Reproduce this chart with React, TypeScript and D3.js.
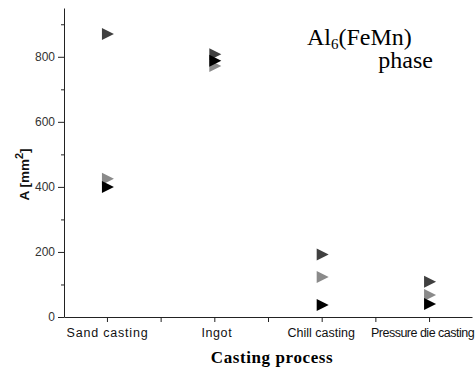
import React, { useEffect, useRef } from 'react';
import * as d3 from 'd3';

const categories = ['Sand casting', 'Ingot', 'Chill casting', 'Pressure die casting'];
const darkSeries = [870, 808, 192, 108];
const graySeries = [425, 772, 123, 68];
const blackSeries = [400, 788, 37, 40];
const yTicks = [0, 200, 400, 600, 800];
const yMinorTicks = [100, 300, 500, 700, 900];
// the labels in the source are unevenly spaced / placed
const labelSpacing = [0.8, 0.6, 0, -0.5];
const labelShift = [0, 2, -1, -7];

const series = [
  { name: 'dark', values: darkSeries, color: '#404040' },
  { name: 'gray', values: graySeries, color: '#8a8a8a' },
  { name: 'black', values: blackSeries, color: '#000000' },
];

function App() {
  const chartRef = useRef(null);

  useEffect(() => {
    if (chartRef.current) {
      createGraph();
    }
  }, []);

  const createGraph = () => {
    d3.select(chartRef.current).selectAll('*').remove();

    const width = 476;
    const height = 369;
    const margin = { top: 8, right: 4, bottom: 52, left: 64 };

    const svg = d3
      .select(chartRef.current)
      .append('svg')
      .attr('width', width)
      .attr('height', height)
      .style('display', 'block')
      .style('background', '#fff');

    const x = d3
      .scaleLinear()
      .domain([-0.4, 3.4])
      .range([margin.left, width - margin.right]);

    const y = d3
      .scaleLinear()
      .domain([0, 950])
      .range([height - margin.bottom, margin.top]);

    // y axis
    const yAxis = svg
      .append('g')
      .attr('transform', `translate(${margin.left},0)`)
      .call(d3.axisLeft(y).tickValues(yTicks).tickSize(6).tickPadding(3).tickSizeOuter(0));
    yAxis.select('.domain').attr('stroke', '#222');
    yAxis.selectAll('.tick line').attr('stroke', '#222');
    yAxis
      .selectAll('.tick text')
      .attr('fill', '#333')
      .style('font-family', 'Arial, "Liberation Sans", sans-serif')
      .style('font-size', '12px');

    svg
      .append('g')
      .attr('transform', `translate(${margin.left},0)`)
      .call(d3.axisLeft(y).tickValues(yMinorTicks).tickSize(3).tickFormat(() => ''))
      .call((g) => g.select('.domain').remove())
      .selectAll('.tick line')
      .attr('stroke', '#222');

    // x axis
    const xAxis = svg
      .append('g')
      .attr('transform', `translate(0,${y(0)})`)
      .call(
        d3
          .axisBottom(x)
          .tickValues(d3.range(categories.length))
          .tickFormat((d) => categories[d])
          .tickSize(5)
          .tickPadding(6)
          .tickSizeOuter(0)
      );
    xAxis.select('.domain').attr('stroke', '#222');
    xAxis.selectAll('.tick line').attr('stroke', '#222');
    xAxis
      .selectAll('.tick text')
      .attr('fill', '#111')
      .attr('dx', (d) => labelShift[d])
      .style('font-family', 'Arial, "Liberation Sans", sans-serif')
      .style('font-size', '12.5px')
      .style('letter-spacing', (d) => `${labelSpacing[d]}px`);

    svg
      .append('g')
      .attr('transform', `translate(0,${y(0)})`)
      .call(
        d3
          .axisBottom(x)
          .tickValues(d3.range(categories.length - 1).map((i) => i + 0.5))
          .tickSize(5)
          .tickFormat(() => '')
      )
      .call((g) => g.select('.domain').remove())
      .selectAll('.tick line')
      .attr('stroke', '#222');

    // markers
    const tri = (cx, cy) =>
      `M${cx - 5},${cy - 6}L${cx + 7},${cy}L${cx - 5},${cy + 6}Z`;

    series.forEach((s) => {
      svg
        .append('g')
        .selectAll('path')
        .data(s.values)
        .enter()
        .append('path')
        .attr('d', (d, i) => tri(x(i), y(d)))
        .attr('fill', s.color);
    });

    // axis titles
    svg
      .append('text')
      .attr('transform', `translate(29,${(y(0) + y(950)) / 2 + 12}) rotate(-90)`)
      .attr('text-anchor', 'middle')
      .style('font-family', 'Arial, "Liberation Sans", sans-serif')
      .style('font-weight', 'bold')
      .style('font-size', '13.5px')
      .attr('fill', '#111')
      .text('A [mm')
      .append('tspan')
      .attr('dy', -6)
      .style('font-size', '11px')
      .text('2')
      .append('tspan')
      .attr('dy', 6)
      .style('font-size', '13.5px')
      .text(']');

    svg
      .append('text')
      .attr('x', 272)
      .attr('y', 363)
      .attr('text-anchor', 'middle')
      .style('font-family', '"Times New Roman", "Liberation Serif", serif')
      .style('font-weight', 'bold')
      .style('font-size', '17px')
      .style('letter-spacing', '0.6px')
      .attr('fill', '#000')
      .text('Casting process');

    // phase annotation
    const ann = svg
      .append('text')
      .attr('x', 307)
      .attr('y', 45)
      .style('font-family', '"Times New Roman", "Liberation Serif", serif')
      .style('font-size', '24px')
      .attr('fill', '#000');
    ann.append('tspan').text('Al');
    ann.append('tspan').attr('dy', 4).style('font-size', '15px').text('6');
    ann.append('tspan').attr('dy', -4).text('(FeMn)');

    svg
      .append('text')
      .attr('x', 433)
      .attr('y', 68)
      .attr('text-anchor', 'end')
      .style('font-family', '"Times New Roman", "Liberation Serif", serif')
      .style('font-size', '24px')
      .attr('fill', '#000')
      .text('phase');
  };

  return (
    <div
      ref={chartRef}
      style={{ position: 'absolute', left: 0, top: 0, width: 476, height: 369, overflow: 'hidden' }}
    />
  );
}

export default App;
